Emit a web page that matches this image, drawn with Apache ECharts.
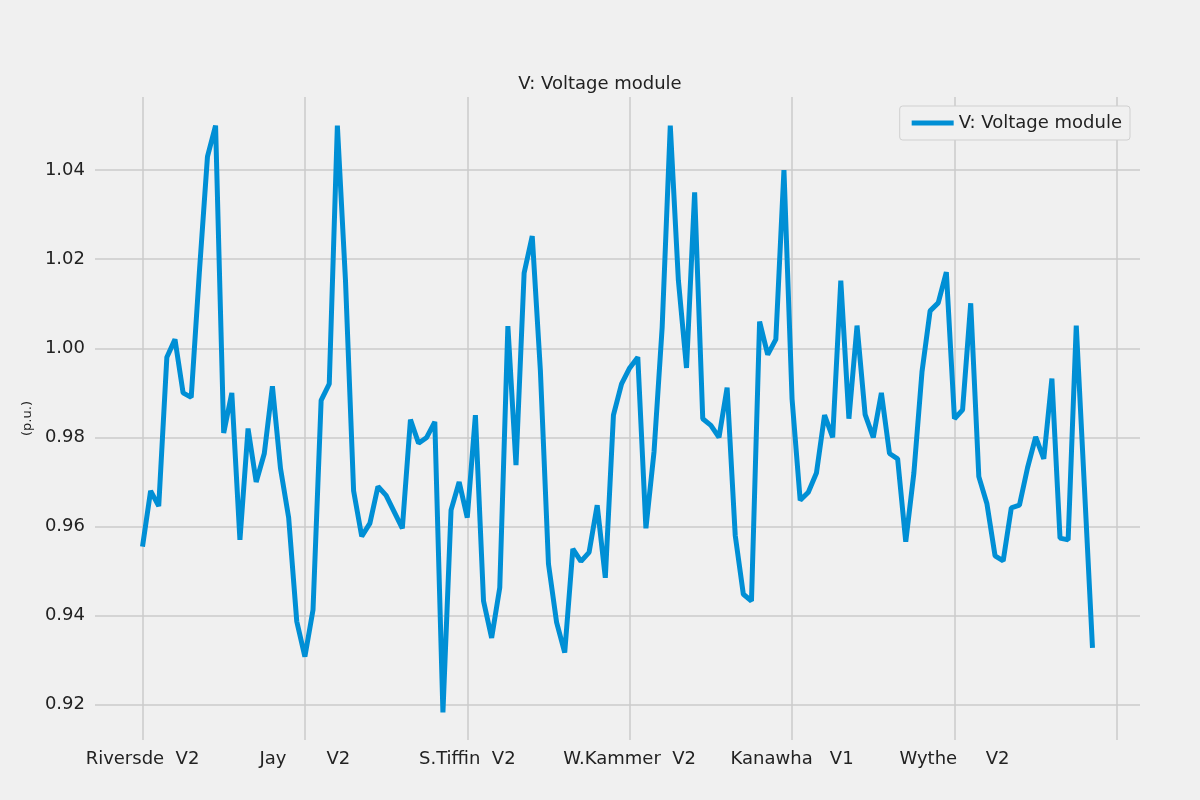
<!DOCTYPE html>
<html>
<head>
<meta charset="utf-8">
<script src="https://cdn.jsdelivr.net/npm/echarts@6/dist/echarts.min.js"></script>
<style>
  html, body { margin: 0; background: #f0f0f0; }
  #main { width: 1200px; height: 800px; }
</style>
</head>
<body>
<div id="main"></div>
<script>
// bus voltages (index = bus number - 1)
var voltage = [
  0.9555, 0.968, 0.9646, 0.998, 1.002, 0.990, 0.989, 1.017, 1.043, 1.050,
  0.981, 0.990, 0.957, 0.982, 0.970, 0.9764, 0.9915, 0.973, 0.962, 0.9387,
  0.9308, 0.9413, 0.9883, 0.992, 1.050, 1.0152, 0.968, 0.9578, 0.9607, 0.969,
  0.967, 0.9633, 0.9596, 0.984, 0.9787, 0.980, 0.9835, 0.9183, 0.9637, 0.970,
  0.962, 0.985, 0.9433, 0.935, 0.9463, 1.005, 0.9738, 1.0169, 1.0252, 0.9951,
  0.9516, 0.9385, 0.9317, 0.955, 0.9522, 0.9542, 0.9648, 0.9485, 0.985, 0.992,
  0.9956, 0.998, 0.9596, 0.9768, 1.0047, 1.050, 1.0152, 0.9956, 1.035, 0.9842,
  0.9827, 0.980, 0.9912, 0.958, 0.9448, 0.9433, 1.006, 0.9986, 1.002, 1.040,
  0.9886, 0.9659, 0.9677, 0.972, 0.985, 0.980, 1.0152, 0.9842, 1.0051, 0.9851,
  0.980, 0.990, 0.9764, 0.9752, 0.9566, 0.972, 0.9947, 1.0084, 1.0102, 1.0171,
  0.9842, 0.9862, 1.0101, 0.9712, 0.9651, 0.9534, 0.9523, 0.9642, 0.9648, 0.9732,
  0.9801, 0.9752, 0.9932, 0.9574, 0.957, 1.0051, 0.969, 0.9328
];
var xTicks = [0, 20, 40, 60, 80, 100, 120];
var xTickLabels = ['Riversde  V2', 'Jay       V2', 'S.Tiffin  V2', 'W.Kammer  V2', 'Kanawha   V1', 'Wythe     V2', ''];
var yTicks = [0.92, 0.94, 0.96, 0.98, 1.00, 1.02, 1.04];

var points = voltage.map(function (v, i) { return [i, v]; });
var gridLines = xTicks.map(function (x) { return { xAxis: x }; })
  .concat(yTicks.map(function (y) { return { yAxis: y }; }));

var labelMap = {};
xTicks.forEach(function (t, i) { labelMap[t] = xTickLabels[i]; });

var chart = echarts.init(document.getElementById('main'));
chart.setOption({
  backgroundColor: '#f0f0f0',
  animation: false,
  textStyle: { fontFamily: 'DejaVu Sans' },
  title: {
    text: 'V: Voltage module', left: 'center', top: 70,
    textStyle: { fontSize: 18, fontWeight: 'normal', color: '#222' }
  },
  legend: {
    right: 70, top: 106, padding: [8, 8, 8, 12],
    backgroundColor: '#f0f0f0', borderColor: '#d0d0d0', borderWidth: 1, borderRadius: 3,
    itemWidth: 42, itemHeight: 5, itemGap: 10,
    textStyle: { fontSize: 18, color: '#222' },
    icon: 'rect'
  },
  grid: { left: 95, right: 60, top: 97, bottom: 60 },
  xAxis: {
    type: 'value', min: -5.85, max: 122.85,
    axisLine: { show: false }, axisTick: { show: false }, splitLine: { show: false },
    axisLabel: {
      customValues: xTicks, fontSize: 18, color: '#222', margin: 10,
      formatter: function (v) { return labelMap[v] !== undefined ? labelMap[v] : ''; }
    }
  },
  yAxis: {
    type: 'value', min: 0.9121, max: 1.0564,
    name: '(p.u.)', nameLocation: 'middle', nameGap: 58, nameRotate: 90,
    nameTextStyle: { fontSize: 13, color: '#222' },
    axisLine: { show: false }, axisTick: { show: false }, splitLine: { show: false },
    axisLabel: {
      customValues: yTicks, fontSize: 18, color: '#222', margin: 10,
      formatter: function (v) { return v.toFixed(2); }
    }
  },
  series: [{
    name: 'V: Voltage module',
    type: 'line',
    data: points,
    showSymbol: false,
    lineStyle: { color: '#008fd5', width: 5 },
    itemStyle: { color: '#008fd5' },
    z: 3,
    markLine: {
      silent: true, symbol: 'none', label: { show: false },
      lineStyle: { color: '#cbcbcb', width: 1.5, type: 'solid' },
      z: 1,
      data: gridLines
    }
  }]
});
</script>
</body>
</html>
